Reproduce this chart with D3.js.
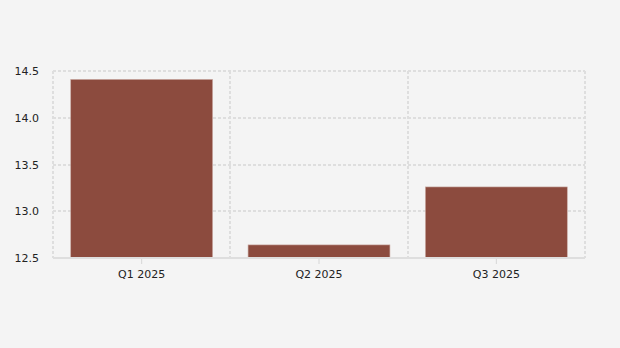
<!DOCTYPE html>
<html>
<head>
<meta charset="utf-8">
<script src="https://cdn.jsdelivr.net/npm/d3@7"></script>
<style>
  body { margin: 0; background: #f4f4f4; }
  svg { display: block; font-family: "DejaVu Sans", sans-serif; }
</style>
</head>
<body>
<div id="chart"></div>
<script>
// data
const categories = ['Q1 2025', 'Q2 2025', 'Q3 2025'];
const values = [14.41, 12.64, 13.26];
const yTicks = [12.5, 13.0, 13.5, 14.0, 14.5];

const width = 620;
const height = 348;
const margin = { top: 71, right: 35, bottom: 90, left: 53 };

const svg = d3.select('#chart').append('svg').attr('width', width).attr('height', height);

const x = d3
  .scaleBand()
  .domain(categories)
  .range([margin.left, width - margin.right])
  .paddingInner(0.2)
  .paddingOuter(0.1);

const y = d3
  .scaleLinear()
  .domain([12.5, 14.5])
  .range([height - margin.bottom, margin.top]);

const grid = svg.append('g').attr('stroke', '#dedede').attr('stroke-width', 2).attr('stroke-dasharray', '3,2');

// horizontal grid
grid
  .selectAll('.hg')
  .data(yTicks)
  .enter()
  .append('line')
  .attr('x1', margin.left)
  .attr('x2', width - margin.right)
  .attr('y1', (d) => Math.round(y(d)))
  .attr('y2', (d) => Math.round(y(d)));

// vertical grid at the band edges
const step = x.step();
const edges = d3.range(categories.length + 1).map((i) => margin.left + i * step);
grid
  .selectAll('.vg')
  .data(edges)
  .enter()
  .append('line')
  .attr('x1', (d) => Math.round(d))
  .attr('x2', (d) => Math.round(d))
  .attr('y1', margin.top)
  .attr('y2', height - margin.bottom);

// bars
svg
  .selectAll('.bar')
  .data(values)
  .enter()
  .append('rect')
  .attr('class', 'bar')
  .attr('x', (d, i) => x(categories[i]))
  .attr('width', x.bandwidth())
  .attr('y', (d) => y(d))
  .attr('height', (d) => y(12.5) - y(d))
  .attr('fill', '#8c4b3e')
  .attr('stroke', '#c9a9a2')
  .attr('stroke-width', 0.6);

// bottom axis line
svg
  .append('line')
  .attr('x1', margin.left)
  .attr('x2', width - margin.right)
  .attr('y1', y(12.5))
  .attr('y2', y(12.5))
  .attr('stroke', '#dedede')
  .attr('stroke-width', 2);

// x axis
const xAxis = svg
  .append('g')
  .attr('transform', `translate(0,${y(12.5) + 1})`)
  .call(d3.axisBottom(x).tickSize(5).tickPadding(6));
xAxis.select('.domain').remove();
xAxis.selectAll('.tick line').attr('stroke', '#d6d6d6');
xAxis.selectAll('.tick text').attr('fill', '#222').style('font-size', '11px').style('font-family', '"DejaVu Sans", sans-serif');

// y axis
const yAxis = svg
  .append('g')
  .attr('transform', `translate(${margin.left},0)`)
  .call(d3.axisLeft(y).tickValues(yTicks).tickFormat(d3.format('.1f')).tickSize(0).tickPadding(14));
yAxis.select('.domain').remove();
yAxis.selectAll('.tick text').attr('fill', '#222').style('font-size', '11px').style('font-family', '"DejaVu Sans", sans-serif');
</script>
</body>
</html>
